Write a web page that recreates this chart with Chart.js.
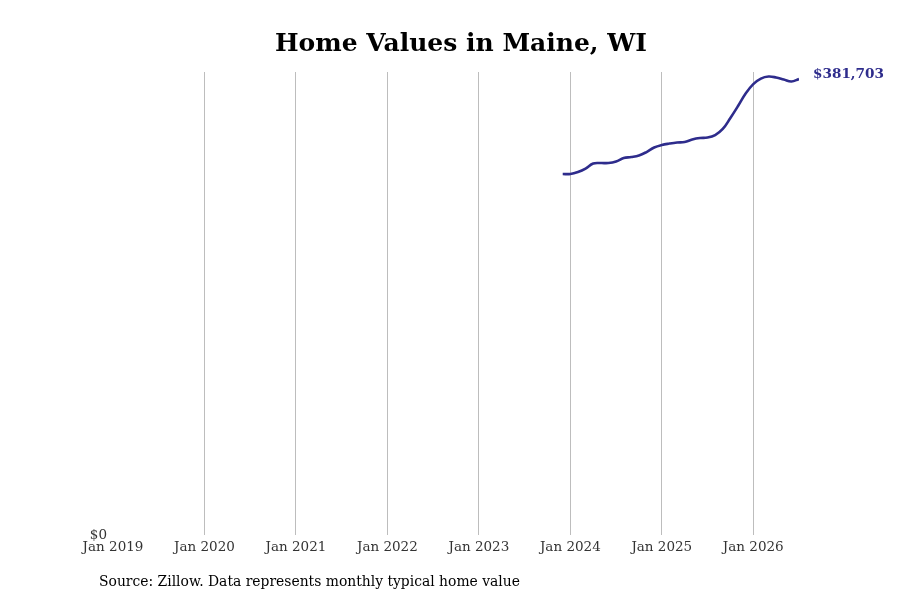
<!DOCTYPE html>
<html>
<head>
<meta charset="utf-8">
<script src="https://cdn.jsdelivr.net/npm/chart.js@4.4.1/dist/chart.umd.min.js"></script>
<style>
html,body{margin:0;padding:0;background:#fff;}
#wrap{width:900px;height:600px;position:relative;}
</style>
</head>
<body>
<div id="wrap"><canvas id="c" width="900" height="600"></canvas></div>
<script>
const TITLE = "Home Values in Maine, WI";
const SOURCE = "Source: Zillow. Data represents monthly typical home value";
const START_YEAR = 2019;
const months = ["2023-12","2024-01","2024-02","2024-03","2024-04","2024-05","2024-06","2024-07","2024-08","2024-09","2024-10","2024-11","2024-12",
  "2025-01","2025-02","2025-03","2025-04","2025-05","2025-06","2025-07","2025-08","2025-09","2025-10","2025-11","2025-12",
  "2026-01","2026-02","2026-03","2026-04","2026-05","2026-06","2026-07"];
const values = [302200,302200,303900,306800,311000,311400,311400,312700,315600,316400,317700,320600,324400,
  326500,327700,328600,329000,331100,332300,332700,334800,339900,349100,359100,369600,
  377500,382100,383800,383000,381300,379600,381703];
const yTicks = [0];
const xTickYears = [2019,2020,2021,2022,2023,2024,2025,2026];

function monthIndex(s){const [y,m]=s.split("-").map(Number);return (y-START_YEAR)*12+(m-1);}
const points = months.map((m,i)=>({x:monthIndex(m),y:values[i]}));
const LINE_COLOR = "#2e2c8c";
const FONT = "'DejaVu Serif', serif";

const textPlugin = {
  id:'texts',
  afterDraw(chart){
    const ctx = chart.ctx;
    ctx.save();
    ctx.fillStyle = "#000";
    ctx.font = "bold 25px " + FONT;
    ctx.textAlign = "center";
    ctx.textBaseline = "middle";
    ctx.fillText(TITLE, 461, 44);
    ctx.font = "13.9px " + FONT;
    ctx.textAlign = "left";
    ctx.fillStyle = "#000";
    ctx.fillText(SOURCE, 99, 582);
    const meta = chart.getDatasetMeta(0);
    const last = meta.data[meta.data.length-1];
    ctx.font = "bold 13.6px " + FONT;
    ctx.fillStyle = LINE_COLOR;
    ctx.fillText("$" + values[values.length-1].toLocaleString("en-US"), last.x + 14, last.y - 5);
    ctx.restore();
  }
};

new Chart(document.getElementById('c'), {
  type:'line',
  data:{datasets:[{data:points,borderColor:LINE_COLOR,borderWidth:2.6,pointRadius:0,tension:0.4,fill:false}]},
  options:{
    responsive:false,animation:false,devicePixelRatio:1,
    layout:{padding:{top:72,right:101,bottom:35,left:0}},
    plugins:{legend:{display:false},tooltip:{enabled:false},title:{display:false}},
    scales:{
      x:{type:'linear',min:0,max:monthIndex("2026-07"),
        afterBuildTicks(s){s.ticks = xTickYears.map(y=>({value:(y-START_YEAR)*12}));},
        afterFit(s){s.height=30;},
        border:{display:false},
        grid:{drawTicks:false,color:(c)=>c.tick && c.tick.value===0?'rgba(0,0,0,0)':'#bdbdbd',lineWidth:1},
        ticks:{padding:4,color:'#333',font:{family:FONT,size:13.5},maxRotation:0,autoSkip:false,
          callback:(v)=>"Jan " + (START_YEAR + v/12)}
      },
      y:{min:0,max:387600,
        afterBuildTicks(s){s.ticks = yTicks.map(v=>({value:v}));},
        afterFit(s){s.width=113;},
        border:{display:false},
        grid:{display:false,drawTicks:false},
        ticks:{padding:6,color:'#333',font:{family:FONT,size:13.5},callback:(v)=>"$"+v.toLocaleString("en-US")}
      }
    }
  },
  plugins:[textPlugin]
});
</script>
</body>
</html>
